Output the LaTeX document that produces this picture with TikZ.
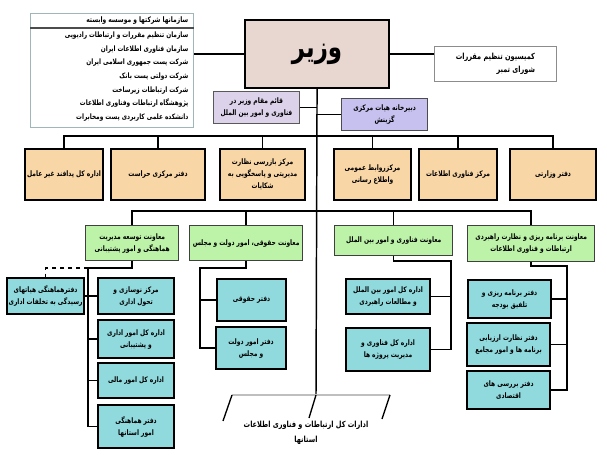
\documentclass[tikz,border=0pt]{standalone}
\usepackage{fontspec}
\newfontfamily\arabicfont[Script=Arabic,FakeStretch=0.78]{DejaVu Sans}
\TeXXeTstate=1
\usetikzlibrary{calc}
\newcommand{\fa}[1]{{\arabicfont\bfseries\beginR #1\endR}}
\definecolor{orangefill}{HTML}{F9D6A6}
\definecolor{greenfill}{HTML}{BDF3A9}
\definecolor{bluefill}{HTML}{90DADE}
\definecolor{lavfill}{HTML}{DCD3EA}
\definecolor{perifill}{HTML}{C6C1EE}
\definecolor{vazirfill}{HTML}{E8D6D1}
\definecolor{listdraw}{HTML}{9FB6BA}
\begin{document}
\begin{tikzpicture}[x=0.75pt,y=-0.75pt,
  every node/.style={inner sep=1pt,font=\fontsize{5.7}{9}\selectfont},
  sz/.style 2 args={minimum width=#1*0.75pt,minimum height=#2*0.75pt},
  base/.style={anchor=north west,align=center,rectangle},
  orangebox/.style={base,fill=orangefill,draw=black,line width=1.6pt},
  greenbox/.style={base,fill=greenfill,draw=black!75,line width=1pt},
  bluebox/.style={base,fill=bluefill,draw=black,line width=1.6pt},
  lavbox/.style={base,fill=lavfill,draw=black!65,line width=0.7pt},
  peribox/.style={base,fill=perifill,draw=black!70,line width=0.9pt},
  whitebox/.style={base,fill=white,draw=black!45,line width=0.6pt},
  conn/.style={draw=black,line width=1.1pt},
  dashconn/.style={draw=black,line width=1.1pt,dashed},
  slash/.style={draw=black,line width=1pt},
  grayline/.style={draw=black!25,line width=0.8pt}]
\useasboundingbox[fill=white] (0,0) rectangle (607,459);

% top level
\node[base,fill=vazirfill,draw=black,line width=1.6pt,sz={144}{68}] (vazir) at (244,19)
  {\fontsize{22}{24}\selectfont\fa{وزیر}};
\node[whitebox,sz={122}{35},align=right,font=\fontsize{6.3}{10}\selectfont] (kom) at (434,46)
  {\fa{کمیسیون تنظیم مقررات}\\\fa{شورای تمبر}};
\node[base,draw=listdraw,line width=0.7pt,fill=white,sz={163}{114}] (list) at (30,13) {};
\node[anchor=north east,align=right] (listhead) at ($(list.north east)+(-4,2)$)
  {\fa{سازمانها شرکتها و موسسه وابسته}};
\node[anchor=north east,align=right,font=\fontsize{5.6}{10.3}\selectfont] (items) at ($(list.north east)+(-4,17)$)
  {\fa{سازمان تنظیم مقررات و ارتباطات رادیویی}\\
   \fa{سازمان فناوری اطلاعات ایران}\\
   \fa{شرکت پست جمهوری اسلامی ایران}\\
   \fa{شرکت دولتی پست بانک}\\
   \fa{شرکت ارتباطات زیرساخت}\\
   \fa{پژوهشگاه ارتباطات وفناوری اطلاعات}\\
   \fa{دانشکده علمی کاربردی پست ومخابرات}};
\draw[draw=black!70,line width=0.8pt] ($(list.north west)+(0,15)$) -- ($(list.north east)+(0,15)$);

\node[lavbox,sz={86}{32}] (qaem) at (213,91)
  {\fa{قائم مقام وزیر در}\\\fa{فناوری و امور بین الملل}};
\node[peribox,sz={86}{32}] (dabir) at (341,98)
  {\fa{دبیرخانه هیات مرکزی}\\\fa{گزینش}};

% orange row
\node[orangebox,sz={78}{51}] (o1) at (24,148) {\fa{اداره کل پدافند غیر عامل}};
\node[orangebox,sz={94}{51}] (o2) at (110,148) {\fa{دفتر مرکزی حراست}};
\node[orangebox,sz={85}{51}] (o3) at (219,148)
  {\fa{مرکز بازرسی نظارت}\\\fa{مدیریتی و پاسخگویی به}\\\fa{شکایات}};
\node[orangebox,sz={77}{51}] (o4) at (333,148)
  {\fa{مرکزروابط عمومی}\\\fa{واطلاع رسانی}};
\node[orangebox,sz={78}{51}] (o5) at (418,148) {\fa{مرکز فناوری اطلاعات}};
\node[orangebox,sz={86}{51}] (o6) at (509,148) {\fa{دفتر وزارتی}};

% green row
\node[greenbox,sz={93}{35}] (g1) at (85,225)
  {\fa{معاونت توسعه مدیریت}\\\fa{هماهنگی و امور پشتیبانی}};
\node[greenbox,sz={113}{35}] (g2) at (189,225) {\fa{معاونت حقوقی، امور دولت و مجلس}};
\node[greenbox,sz={118}{30}] (g3) at (334,225) {\fa{معاونت فناوری و امور بین الملل}};
\node[greenbox,sz={127}{36}] (g4) at (467,225)
  {\fa{معاونت برنامه ریزی و نظارت راهبردی}\\\fa{ارتباطات و فناوری اطلاعات}};

% blue boxes
\node[bluebox,sz={77}{36}] (bd) at (6,277)
  {\fa{دفترهماهنگی هیاتهای}\\\fa{رسیدگی به تخلفات اداری}};
\node[bluebox,sz={76}{36}] (b1) at (97,277) {\fa{مرکز نوسازی و}\\\fa{تحول اداری}};
\node[bluebox,sz={76}{38}] (b2) at (97,319) {\fa{اداره کل امور اداری}\\\fa{و پشتیبانی}};
\node[bluebox,sz={76}{35}] (b3) at (97,362) {\fa{اداره کل امور مالی}};
\node[bluebox,sz={76}{43}] (b4) at (97,404) {\fa{دفتر هماهنگی}\\\fa{امور استانها}};
\node[bluebox,sz={69}{42}] (b5) at (216,278) {\fa{دفتر حقوقی}};
\node[bluebox,sz={70}{42}] (b6) at (215,326) {\fa{دفتر امور دولت}\\\fa{و مجلس}};
\node[bluebox,sz={84}{35}] (b7) at (345,278)
  {\fa{اداره کل امور بین الملل}\\\fa{و مطالعات راهبردی}};
\node[bluebox,sz={84}{43}] (b8) at (345,327) {\fa{اداره کل فناوری و}\\\fa{مدیریت پروژه ها}};
\node[bluebox,sz={83}{38}] (b9) at (467,279) {\fa{دفتر برنامه ریزی و}\\\fa{تلفیق بودجه}};
\node[bluebox,sz={83}{43}] (b10) at (466,322)
  {\fa{دفتر نظارت ارزیابی}\\\fa{برنامه ها و امور مجامع}};
\node[bluebox,sz={83}{38}] (b11) at (466,370) {\fa{دفتر بررسی های}\\\fa{اقتصادی}};

% bottom
\coordinate (bt) at (316,395);
\coordinate (bl) at (232,395);
\coordinate (br) at (390,395);
\coordinate (blx) at (223,421);
\coordinate (btx) at (309,418);
\coordinate (brx) at (382,419);
\node[align=center,font=\fontsize{6.3}{11.5}\selectfont] (prov) at (306,433)
  {\fa{ادارات کل ارتباطات و فناوری اطلاعات}\\\fa{استانها}};

% connectors
\draw[conn] (vazir.south) -- (bt);
\draw[conn] (vazir.west) -- (vazir.west -| list.east);
\draw[conn] (vazir.east) -- (vazir.east -| kom.west);
\draw[conn] (qaem.east) -- (qaem.east -| vazir.south);
\draw[conn] (dabir.west) -- (dabir.west -| vazir.south);

\draw[conn] (o1.north) -- ++(0,-12) -| (o6.north);
\foreach \n in {o2,o3,o4,o5} \draw[conn] (\n.north) -- ++(0,-12);

\draw[conn] (g1.north) -- ++(0,-14) -| (g4.north);
\foreach \n in {g2,g3} \draw[conn] (\n.north) -- ++(0,-14);

\coordinate (c1) at (88,268);
\draw[conn] (g1.south) |- (c1) |- (b4.west);
\foreach \n in {b2,b3} \draw[conn] (c1 |- \n.west) -- (\n.west);
\draw[conn] (bd.east) -- (b1.west);
\draw[dashconn] (c1) -| (bd.north);

\coordinate (c2) at (200,268);
\draw[conn] (g2.south) |- (c2) |- (b6.west);
\draw[conn] (c2 |- b5.west) -- (b5.west);

\coordinate (c3) at (451,261);
\draw[conn] (g3.south) |- (c3) |- (b8.east);
\draw[conn] (c3 |- b7.east) -- (b7.east);

\coordinate (c4) at (567,266);
\draw[conn] (g4.south) |- (c4) |- (b11.east);
\foreach \n in {b9,b10} \draw[conn] (c4 |- \n.east) -- (\n.east);

\draw[grayline] (bl) -- (br);
\draw[slash] (bl) -- (blx);
\draw[slash] (bt) -- (btx);
\draw[slash] (br) -- (brx);
\end{tikzpicture}
\end{document}
